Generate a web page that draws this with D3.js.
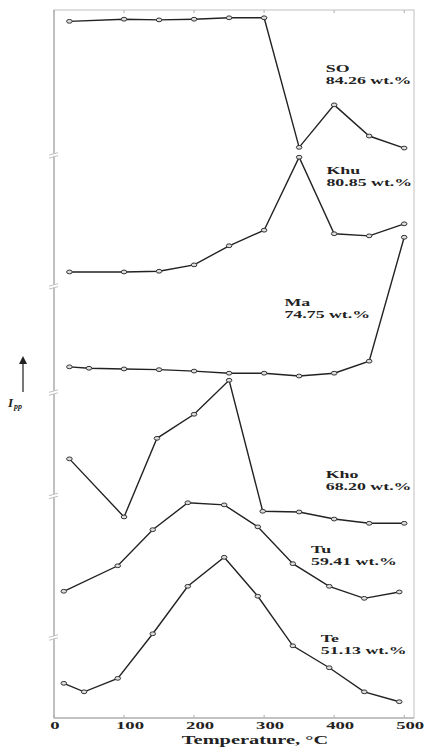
<!DOCTYPE html>
<html>
<head>
<meta charset="utf-8">
<script src="https://cdn.jsdelivr.net/npm/d3@7"></script>
<style>
  body { margin: 0; background: #fff; }
  svg { display: block; }
  text { font-family: "Liberation Serif", "DejaVu Serif", serif; fill: #222; }
</style>
</head>
<body>
<div id="container"></div>
<script>
let w = 425;
let h = 749;

// temperatures (°C) and relative intensity (arbitrary, stacked) per sample
let tempSO  = [22, 100, 150, 200, 250, 300, 350, 400, 450, 500];
let valSO   = [98.4, 98.7, 98.6, 98.7, 98.9, 98.9, 80.6, 86.6, 82.2, 80.5];
let tempKhu = [22, 100, 150, 200, 250, 300, 350, 400, 450, 500];
let valKhu  = [63.0, 63.0, 63.1, 64.0, 66.7, 68.9, 79.2, 68.4, 68.1, 69.8];
let tempMa  = [22, 50, 100, 150, 200, 250, 300, 350, 400, 450, 500];
let valMa   = [49.6, 49.4, 49.3, 49.2, 49.0, 48.7, 48.7, 48.3, 48.7, 50.4, 67.9];
let tempKho = [22, 100, 147, 200, 250, 298, 350, 400, 450, 500];
let valKho  = [36.6, 28.4, 39.5, 42.9, 47.7, 29.2, 29.1, 28.1, 27.5, 27.5];
let tempTu  = [14, 91, 141, 191, 243, 291, 341, 393, 443, 493];
let valTu   = [17.9, 21.5, 26.6, 30.4, 30.1, 27.0, 21.8, 18.6, 16.9, 17.8];
let tempTe  = [14, 43, 91, 141, 191, 243, 291, 341, 393, 443, 493];
let valTe   = [4.9, 3.7, 5.6, 11.9, 18.6, 22.7, 17.2, 10.2, 7.1, 3.7, 2.3];

let names   = ["SO", "Khu", "Ma", "Kho", "Tu", "Te"];
let contents = ["84.26 wt.%", "80.85 wt.%", "74.75 wt.%", "68.20 wt.%", "59.41 wt.%", "51.13 wt.%"];
// label anchor (temperature, intensity) for each sample
let labelT  = [388, 389, 329, 388, 367, 381];
let labelV  = [91.3, 76.8, 58.2, 33.9, 23.3, 10.7];

let xTicks = [0, 100, 200, 300, 400, 500];
let breaks = [79.5, 61.0, 46.0, 31.4, 11.4];

let series = [
  {t: tempSO, v: valSO}, {t: tempKhu, v: valKhu}, {t: tempMa, v: valMa},
  {t: tempKho, v: valKho}, {t: tempTu, v: valTu}, {t: tempTe, v: valTe}
];

let pLeft = 54, pRight = 414, pTop = 10, pBottom = 718;
let sx = 1.7; // glyphs in the figure are stretched horizontally

let viz = d3.select("#container").append("svg")
  .attr("width", w).attr("height", h);

let xScale = d3.scaleLinear().domain([0, 514]).range([pLeft, pRight]);
let yScale = d3.scaleLinear().domain([0, 100]).range([pBottom, pTop]);

// frame
viz.append("rect")
  .attr("x", pLeft).attr("y", pTop)
  .attr("width", pRight - pLeft).attr("height", pBottom - pTop)
  .attr("fill", "none").attr("stroke", "#cacaca").attr("stroke-width", 1.2);
viz.append("line")
  .attr("x1", pLeft).attr("x2", pLeft).attr("y1", pTop).attr("y2", pBottom)
  .attr("stroke", "#b8b8b8").attr("stroke-width", 1.6);
viz.append("line")
  .attr("x1", pLeft).attr("x2", pRight).attr("y1", pBottom).attr("y2", pBottom)
  .attr("stroke", "#b8b8b8").attr("stroke-width", 1.6);

// ticks top and bottom
viz.selectAll(".tickB").data(xTicks).enter().append("line")
  .attr("x1", d => xScale(d)).attr("x2", d => xScale(d))
  .attr("y1", pBottom).attr("y2", pBottom - 3)
  .attr("stroke", "#b0b0b0");
viz.selectAll(".tickT").data(xTicks).enter().append("line")
  .attr("x1", d => xScale(d)).attr("x2", d => xScale(d))
  .attr("y1", pTop).attr("y2", pTop + 3)
  .attr("stroke", "#b0b0b0");

viz.selectAll(".xlab").data(xTicks).enter().append("text")
  .attr("transform", d => "translate(" + (xScale(d) + (d ? 6 : 1)) + "," + 729 + ") scale(" + sx + ",1)")
  .attr("text-anchor", "middle")
  .attr("font-size", 11)
  .attr("font-weight", "bold")
  .text(d => d);

viz.append("text")
  .attr("transform", "translate(255,744) scale(" + sx + ",1)")
  .attr("text-anchor", "middle")
  .attr("font-size", 12)
  .attr("font-weight", "bold")
  .text("Temperature, °C");

// axis breaks
breaks.forEach(function(b){
  let y = yScale(b);
  viz.append("rect").attr("x", pLeft - 2).attr("y", y - 1.5).attr("width", 4).attr("height", 3).attr("fill", "white");
  viz.append("line").attr("x1", pLeft - 5).attr("x2", pLeft + 4).attr("y1", y).attr("y2", y - 2.5)
    .attr("stroke", "#c0c0c0").attr("stroke-width", 1);
  viz.append("line").attr("x1", pLeft - 5).attr("x2", pLeft + 4).attr("y1", y + 3).attr("y2", y + 0.5)
    .attr("stroke", "#c0c0c0").attr("stroke-width", 1);
});

// y label with arrow
viz.append("line").attr("x1", 23).attr("x2", 23).attr("y1", 392).attr("y2", 362)
  .attr("stroke", "#555").attr("stroke-width", 1.6);
viz.append("path").attr("d", "M19,364 L27,364 L23,356 Z").attr("fill", "#222");
let ylab = viz.append("text").attr("x", 8).attr("y", 407)
  .attr("font-size", 13).attr("font-weight", "bold").attr("font-style", "italic");
ylab.append("tspan").text("I");
ylab.append("tspan").attr("font-size", 8).attr("dy", 2).attr("dx", 1).text("pp");

// lines and markers
let line = d3.line().x(d => xScale(d[0])).y(d => yScale(d[1]));

series.forEach(function(s){
  let pts = s.t.map((t, i) => [t, s.v[i]]);
  viz.append("path").datum(pts)
    .attr("d", line)
    .attr("fill", "none")
    .attr("stroke", "#222")
    .attr("stroke-width", 1.4);
  viz.selectAll(null).data(pts).enter().append("ellipse")
    .attr("cx", d => xScale(d[0])).attr("cy", d => yScale(d[1]))
    .attr("rx", 2.8).attr("ry", 1.9)
    .attr("fill", "#ddd").attr("stroke", "#333").attr("stroke-width", 1);
});

// sample labels
names.forEach(function(n, i){
  let g = viz.append("text")
    .attr("transform", "translate(" + xScale(labelT[i]) + "," + yScale(labelV[i]) + ") scale(" + sx + ",1)")
    .attr("font-size", 10.5)
    .attr("font-weight", "bold");
  g.append("tspan").attr("x", 0).attr("y", 0).text(n);
  g.append("tspan").attr("x", 0).attr("y", 12).text(contents[i]);
});
</script>
</body>
</html>
